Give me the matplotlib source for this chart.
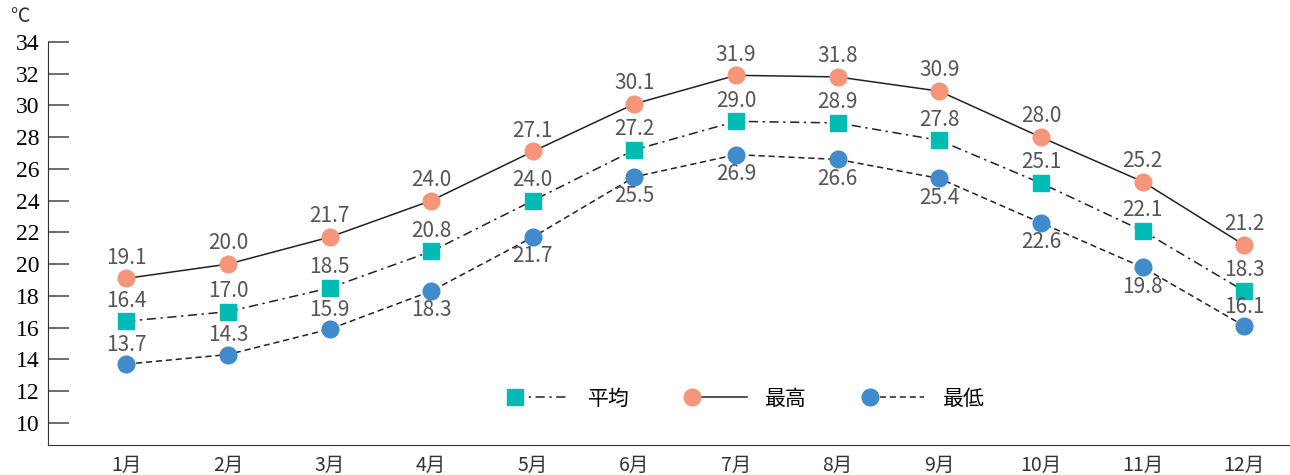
import matplotlib.pyplot as plt
from matplotlib.legend_handler import HandlerLine2D

# monthly temperature data
months = ['1月', '2月', '3月', '4月', '5月', '6月', '7月', '8月', '9月', '10月', '11月', '12月']
avg_t = [16.4, 17.0, 18.5, 20.8, 24.0, 27.2, 29.0, 28.9, 27.8, 25.1, 22.1, 18.3]
max_t = [19.1, 20.0, 21.7, 24.0, 27.1, 30.1, 31.9, 31.8, 30.9, 28.0, 25.2, 21.2]
min_t = [13.7, 14.3, 15.9, 18.3, 21.7, 25.5, 26.9, 26.6, 25.4, 22.6, 19.8, 16.1]
# label above (1) or below (-1) the marker for the low series
min_side = [1, 1, 1, -1, -1, -1, -1, -1, -1, -1, -1, 1]

jp = ['Noto Sans CJK JP', 'DejaVu Sans']
c_avg = '#00BBB4'
c_max = '#F5967A'
c_min = '#3F8BCB'
lab_c = '#555555'


# legend handle with the marker at the left end of the line
class LeftMarker(HandlerLine2D):
    def create_artists(self, legend, orig_handle, xdescent, ydescent, width, height, fontsize, trans):
        arts = super().create_artists(legend, orig_handle, xdescent, ydescent, width, height, fontsize, trans)
        yc = (height - ydescent) / 2
        ln = arts[0]
        ln.set_data([-xdescent, width - xdescent], [yc, yc])
        ln.set_markevery([0])
        return arts


fig = plt.figure(figsize=(12.9, 4.75), dpi=100)
ax = fig.add_axes([48/1290, 30/475, 1242/1290, 403/475])
x = list(range(1, 13))

ax.plot(x, avg_t, color='#222222', lw=1.1, ls=(0, (6, 3, 1.5, 3)), marker='s', ms=12,
        mfc=c_avg, mec=c_avg, label='平均', zorder=3)
ax.plot(x, max_t, color='#222222', lw=1.1, ls='-', marker='o', ms=12,
        mfc=c_max, mec=c_max, label='最高', zorder=3)
ax.plot(x, min_t, color='#222222', lw=1.1, ls=(0, (4, 2.5)), marker='o', ms=12,
        mfc=c_min, mec=c_min, label='最低', zorder=3)

for i in range(12):
    ax.annotate(f'{max_t[i]:.1f}', (x[i], max_t[i]), xytext=(0, 7), textcoords='offset points',
                ha='center', va='bottom', fontsize=15, color=lab_c, family=jp)
    ax.annotate(f'{avg_t[i]:.1f}', (x[i], avg_t[i]), xytext=(0, 7), textcoords='offset points',
                ha='center', va='bottom', fontsize=15, color=lab_c, family=jp)
    if min_side[i] > 0:
        ax.annotate(f'{min_t[i]:.1f}', (x[i], min_t[i]), xytext=(0, 6), textcoords='offset points',
                    ha='center', va='bottom', fontsize=15, color=lab_c, family=jp)
    else:
        ax.annotate(f'{min_t[i]:.1f}', (x[i], min_t[i]), xytext=(0, -6), textcoords='offset points',
                    ha='center', va='top', fontsize=15, color=lab_c, family=jp)

ax.set_xlim(0.23, 12.45)
ax.set_ylim(8.6, 34)
ax.set_yticks(range(10, 35, 2))
ax.set_yticklabels([str(v) for v in range(10, 35, 2)], family='Liberation Serif', fontsize=17)
ax.tick_params(axis='y', direction='in', length=15, width=1.2, color='#555555', pad=6)
ax.set_xticks(x)
ax.set_xticklabels(months, family=jp, fontsize=14, color='#333333')
ax.tick_params(axis='x', length=0, pad=7)
ax.spines['top'].set_visible(False)
ax.spines['right'].set_visible(False)
ax.spines['left'].set_color('#333333')
ax.spines['bottom'].set_color('#333333')

fig.text(10/1290, 1 - 17/475, '℃', family=jp, fontsize=14, va='center', color='#333333')

h, l = ax.get_legend_handles_labels()
ax.legend(h, l, loc='center', bbox_to_anchor=(0.565, 0.115), ncol=3, frameon=False,
          prop={'family': jp, 'size': 15}, handlelength=2.6, columnspacing=3.0, handletextpad=0.9,
          handler_map={hh: LeftMarker(numpoints=1) for hh in h})

fig.savefig('out.png', dpi=100)
